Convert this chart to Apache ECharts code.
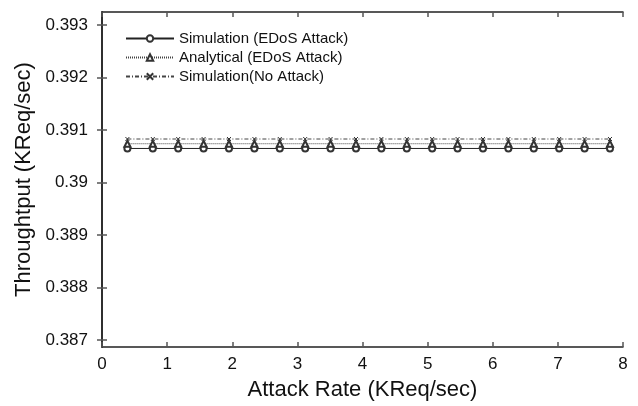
<!DOCTYPE html>
<html>
<head>
<meta charset="utf-8">
<script src="https://cdn.jsdelivr.net/npm/echarts@6/dist/echarts.min.js"></script>
<style>
  html, body {margin: 0; padding: 0; background: #fff;}
  #chart {width: 638px; height: 406px;}
</style>
</head>
<body>
<div id="chart"></div>
<script>
var attackRate = [0.39, 0.78, 1.17, 1.56, 1.95, 2.34, 2.73, 3.12, 3.51, 3.9,
  4.29, 4.68, 5.07, 5.46, 5.85, 6.24, 6.63, 7.02, 7.41, 7.8];
var simEdos = [0.39065, 0.39065, 0.39065, 0.39065, 0.39065, 0.39065, 0.39065, 0.39065, 0.39065, 0.39065,
  0.39065, 0.39065, 0.39065, 0.39065, 0.39065, 0.39065, 0.39065, 0.39065, 0.39065, 0.39065];
var anaEdos = [0.39074, 0.39074, 0.39074, 0.39074, 0.39074, 0.39074, 0.39074, 0.39074, 0.39074, 0.39074,
  0.39074, 0.39074, 0.39074, 0.39074, 0.39074, 0.39074, 0.39074, 0.39074, 0.39074, 0.39074];
var simNoAttack = [0.39083, 0.39083, 0.39083, 0.39083, 0.39083, 0.39083, 0.39083, 0.39083, 0.39083, 0.39083,
  0.39083, 0.39083, 0.39083, 0.39083, 0.39083, 0.39083, 0.39083, 0.39083, 0.39083, 0.39083];
var seriesNames = ['Simulation (EDoS Attack)', 'Analytical (EDoS Attack)', 'Simulation(No Attack)'];
var yTicks = ['0.387', '0.388', '0.389', '0.39', '0.391', '0.392', '0.393'];

function pairs(ys) {
  return attackRate.map(function (x, i) { return [x, ys[i]]; });
}

var font = 'Liberation Sans, Arial, sans-serif';
var axisLine = {show: true, lineStyle: {color: '#222', width: 1.5}};
var tick = {show: true, inside: true, length: 5, lineStyle: {color: '#555', width: 1.5}};
var crossPath = 'path://M0,0L10,10M10,0L0,10';
var yTickValues = yTicks.map(Number);

var myChart = echarts.init(document.getElementById('chart'));
myChart.setOption({
  animation: false,
  backgroundColor: '#fff',
  grid: {left: 102, right: 15, top: 12, bottom: 57},
  legend: {
    orient: 'vertical',
    left: 120,
    top: 26,
    itemWidth: 48,
    itemHeight: 8,
    itemGap: 4,
    data: seriesNames,
    textStyle: {fontFamily: font, fontSize: 15, color: '#111'}
  },
  xAxis: [{
    type: 'value', min: 0, max: 8, interval: 1,
    name: 'Attack Rate (KReq/sec)', nameLocation: 'middle', nameGap: 32,
    nameTextStyle: {fontFamily: font, fontSize: 22, color: '#111'},
    axisLine: axisLine, axisTick: tick, splitLine: {show: false},
    axisLabel: {fontFamily: font, fontSize: 17, color: '#111', margin: 9}
  }, {
    type: 'value', position: 'top', min: 0, max: 8, interval: 1,
    axisLine: axisLine, axisTick: tick, splitLine: {show: false},
    axisLabel: {show: false}
  }],
  yAxis: [{
    type: 'value', min: 0.386867, max: 0.39325,
    name: 'Throughtput (KReq/sec)', nameLocation: 'middle', nameGap: 64,
    nameTextStyle: {fontFamily: font, fontSize: 22, color: '#111'},
    axisLine: axisLine, splitLine: {show: false},
    axisTick: {show: true, inside: true, length: 5, lineStyle: {color: '#555', width: 1.5},
      customValues: yTickValues},
    axisLabel: {fontFamily: font, fontSize: 17, color: '#111', margin: 14,
      customValues: yTickValues,
      formatter: function (v) { return yTicks[Math.round((v - 0.387) * 1000)]; }}
  }, {
    type: 'value', position: 'right', min: 0.386867, max: 0.39325,
    axisLine: axisLine, splitLine: {show: false},
    axisTick: {show: true, inside: true, length: 5, lineStyle: {color: '#555', width: 1.5},
      customValues: yTickValues},
    axisLabel: {show: false}
  }],
  series: [{
    name: seriesNames[0], type: 'line', data: pairs(simEdos),
    symbol: 'emptyCircle', symbolSize: 6,
    lineStyle: {color: '#222', width: 1},
    itemStyle: {color: '#333', borderWidth: 1}
  }, {
    name: seriesNames[1], type: 'line', data: pairs(anaEdos),
    symbol: 'emptyTriangle', symbolSize: 6,
    lineStyle: {color: '#444', width: 1, type: [1, 1]},
    itemStyle: {color: '#333', borderWidth: 1}
  }, {
    name: seriesNames[2], type: 'line', data: pairs(simNoAttack),
    symbol: crossPath, symbolSize: 4,
    lineStyle: {color: '#444', width: 1, type: [4, 2, 1, 2]},
    itemStyle: {color: 'transparent', borderColor: '#333', borderWidth: 1}
  }]
});
</script>
</body>
</html>
